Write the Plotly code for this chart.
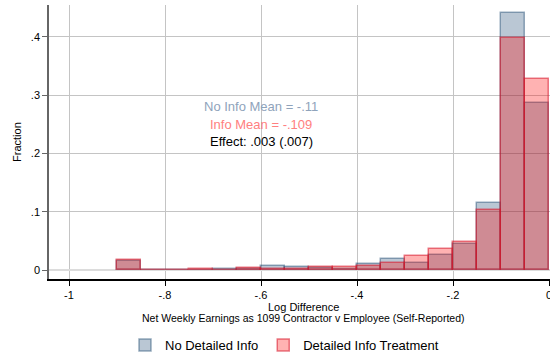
import plotly.graph_objects as go

# Histogram bins (left edges), width 0.05
bin_starts = [-0.90, -0.85, -0.80, -0.75, -0.70, -0.65, -0.60, -0.55, -0.50,
              -0.45, -0.40, -0.35, -0.30, -0.25, -0.20, -0.15, -0.10, -0.05]
bin_width = 0.05
no_info = [0.016, 0.0005, 0.0005, 0.0, 0.002, 0.002, 0.0073, 0.005, 0.004,
           0.003, 0.0108, 0.0193, 0.012, 0.0257, 0.0445, 0.1147, 0.440, 0.286]
info = [0.0176, 0.001, 0.001, 0.0015, 0.001, 0.0034, 0.003, 0.0025, 0.0057,
        0.0057, 0.0074, 0.012, 0.0245, 0.036, 0.048, 0.103, 0.398, 0.327]

x_ticks = [-1, -0.8, -0.6, -0.4, -0.2, 0]
x_ticklabels = ["-1", "-.8", "-.6", "-.4", "-.2", "0"]
y_ticks = [0, 0.1, 0.2, 0.3, 0.4]
y_ticklabels = ["0", ".1", ".2", ".3", ".4"]

centers = [s + bin_width / 2 for s in bin_starts]
FONT = "Liberation Sans, Arial, Helvetica, sans-serif"

fig = go.Figure()
fig.add_trace(go.Bar(
    x=centers, y=no_info, width=bin_width, name="No Detailed Info",
    marker=dict(color="rgba(26,71,111,0.3)",
                line=dict(color="rgba(26,71,111,0.45)", width=1.5)),
))
fig.add_trace(go.Bar(
    x=centers, y=info, width=bin_width, name="Detailed Info Treatment",
    marker=dict(color="rgba(255,0,0,0.3)",
                line=dict(color="rgba(215,20,40,0.55)", width=1.5)),
))

annots = [
    dict(x=-0.6, y=0.28, text="No Info Mean = -.11", color="#8fa3bb"),
    dict(x=-0.6, y=0.249, text="Info Mean = -.109", color="#ff8080"),
    dict(x=-0.6, y=0.22, text="Effect: .003 (.007)", color="#000000"),
]
for a in annots:
    fig.add_annotation(x=a["x"], y=a["y"], xref="x", yref="y", text=a["text"],
                       showarrow=False, font=dict(family=FONT, size=13, color=a["color"]),
                       xanchor="center", yanchor="middle")

fig.add_annotation(x=0.507, y=-0.102, xref="paper", yref="paper", text="Log Difference",
                   showarrow=False, font=dict(family=FONT, size=11, color="#000"),
                   xanchor="center", yanchor="middle")
fig.add_annotation(x=0.507, y=-0.142, xref="paper", yref="paper",
                   text="Net Weekly Earnings as 1099 Contractor v Employee (Self-Reported)",
                   showarrow=False, font=dict(family=FONT, size=10.5, color="#000"),
                   xanchor="center", yanchor="middle")
fig.add_annotation(x=-0.064, y=0.5, xref="paper", yref="paper", text="Fraction",
                   showarrow=False, textangle=-90,
                   font=dict(family=FONT, size=11, color="#000"),
                   xanchor="center", yanchor="middle")

fig.update_layout(
    width=550, height=358,
    margin=dict(l=49, r=0, t=5, b=79, autoexpand=False),
    barmode="overlay",
    plot_bgcolor="white", paper_bgcolor="white",
    font=dict(family=FONT, size=11, color="#000"),
    showlegend=True,
    legend=dict(orientation="h", x=125 / 550, y=1 - 345 / 358,
                xref="container", yref="container",
                xanchor="left", yanchor="middle",
                font=dict(family=FONT, size=13, color="#000"),
                traceorder="normal", bgcolor="rgba(0,0,0,0)"),
    bargap=0,
)
fig.update_xaxes(
    range=[-1.04167, 0.00208], tickvals=x_ticks, ticktext=x_ticklabels,
    showgrid=True, gridcolor="#c4c4c4", gridwidth=1,
    showline=True, linecolor="#000", linewidth=1.5,
    ticks="outside", ticklen=5, tickcolor="#000", tickwidth=1,
    zeroline=False, tickfont=dict(size=11), automargin=False,
    ticklabeloverflow="allow",
)
fig.update_yaxes(
    range=[-0.0149, 0.4543], tickvals=y_ticks, ticktext=y_ticklabels,
    showgrid=True, gridcolor="#c4c4c4", gridwidth=1,
    showline=True, linecolor="#666", linewidth=1.5,
    ticks="outside", ticklen=5, tickcolor="#666", tickwidth=1,
    zeroline=True, zerolinecolor="#dcdcdc", zerolinewidth=2,
    tickfont=dict(size=11), automargin=False,
)

fig.write_html("out.html")
